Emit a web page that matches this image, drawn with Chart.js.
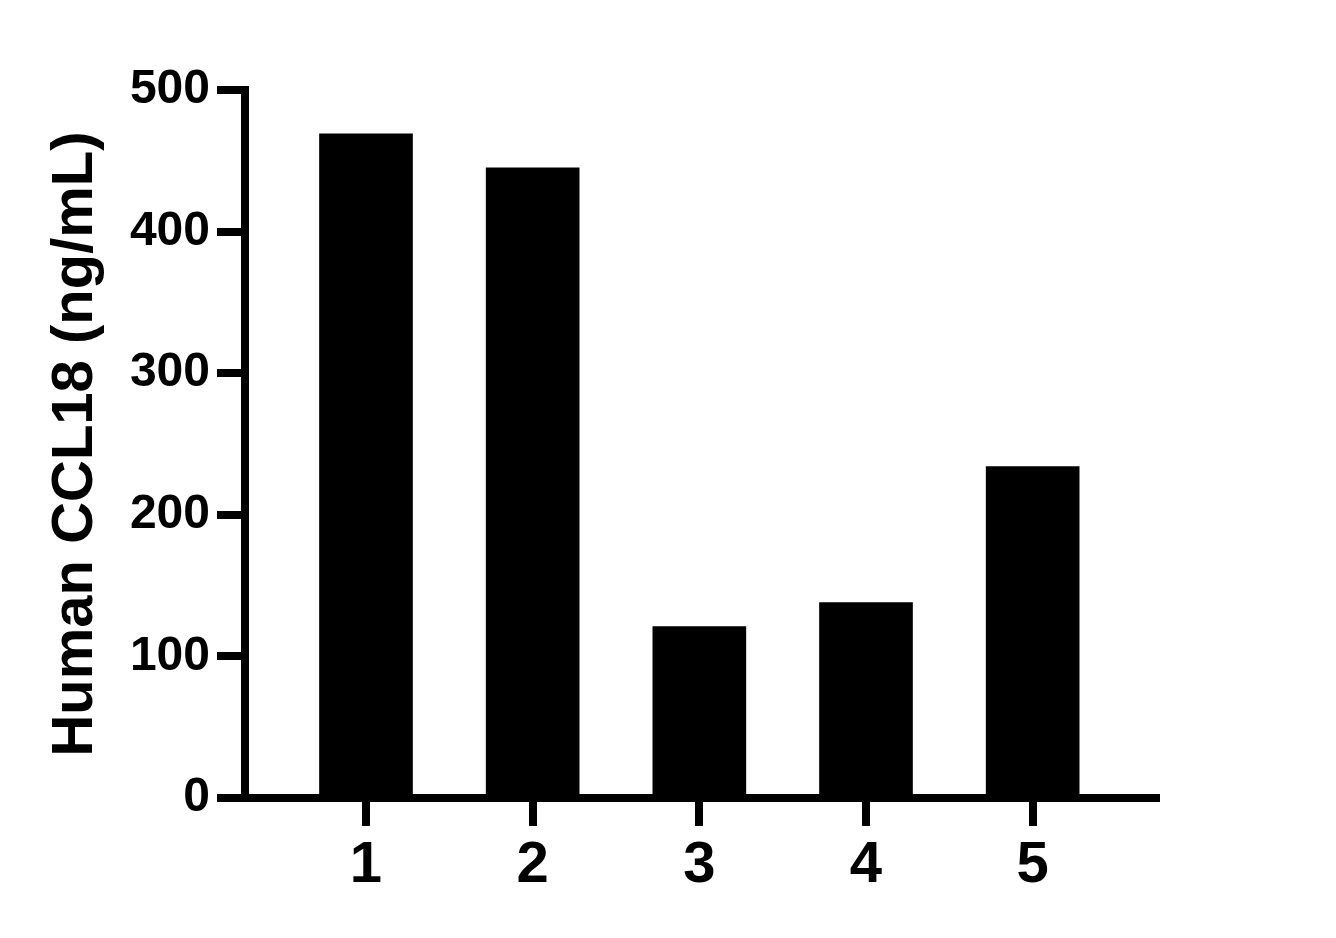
<!DOCTYPE html>
<html>
<head>
<meta charset="utf-8">
<script src="https://cdn.jsdelivr.net/npm/chart.js@4/dist/chart.umd.min.js"></script>
<style>
  html, body { margin: 0; padding: 0; background: #fff; }
  #wrap { width: 1336px; height: 938px; position: relative; }
</style>
</head>
<body>
<div id="wrap"><canvas id="chart" width="1336" height="938"></canvas></div>
<script>
// values
const categories = ['1', '2', '3', '4', '5'];
const ccl18 = [469, 445, 121, 138, 234];
const yTicks = [0, 100, 200, 300, 400, 500];
const yTitle = 'Human CCL18 (ng/mL)';

const font = 'Liberation Sans, Arial, Helvetica, sans-serif';

const ctx = document.getElementById('chart').getContext('2d');
new Chart(ctx, {
    type: 'bar',
    data: {
        datasets: [{
            label: yTitle,
            data: categories.map((c, i) => ({ x: i + 1, y: ccl18[i] })),
            backgroundColor: '#000',
            borderWidth: 0,
            barThickness: 93
        }]
    },
    options: {
        responsive: false,
        animation: false,
        devicePixelRatio: 1,
        layout: { padding: { top: 90, right: 180, bottom: 0, left: 0 } },
        plugins: { legend: { display: false }, tooltip: { enabled: false } },
        scales: {
            x: {
                type: 'linear',
                offset: false,
                min: 0.274,
                max: 5.74,
                afterFit: s => { s.height = 140; },
                afterBuildTicks: s => { s.ticks = categories.map((c, i) => ({ value: i + 1 })); },
                grid: { display: true, offset: false, drawOnChartArea: false, drawTicks: true, tickLength: 28, lineWidth: 8, color: '#000' },
                border: { display: true, width: 8, color: '#000' },
                ticks: {
                    color: '#000',
                    padding: 5,
                    font: { family: font, size: 58, weight: 'bold' },
                    callback: (v) => categories[v - 1]
                }
            },
            y: {
                min: 0,
                max: 500,
                afterFit: s => { s.width = 245; },
                afterBuildTicks: s => { s.ticks = yTicks.map(v => ({ value: v })); },
                grid: { display: true, drawOnChartArea: false, drawTicks: true, tickLength: 28, lineWidth: 8, color: '#000' },
                border: { display: true, width: 8, color: '#000' },
                ticks: {
                    color: '#000',
                    padding: 7,
                    font: { family: font, size: 48, weight: 'bold' }
                },
                title: {
                    display: true,
                    text: yTitle,
                    color: '#000',
                    padding: { top: 41, bottom: 0 },
                    font: { family: font, size: 58, weight: 'bold' }
                }
            }
        }
    }
});
</script>
</body>
</html>
